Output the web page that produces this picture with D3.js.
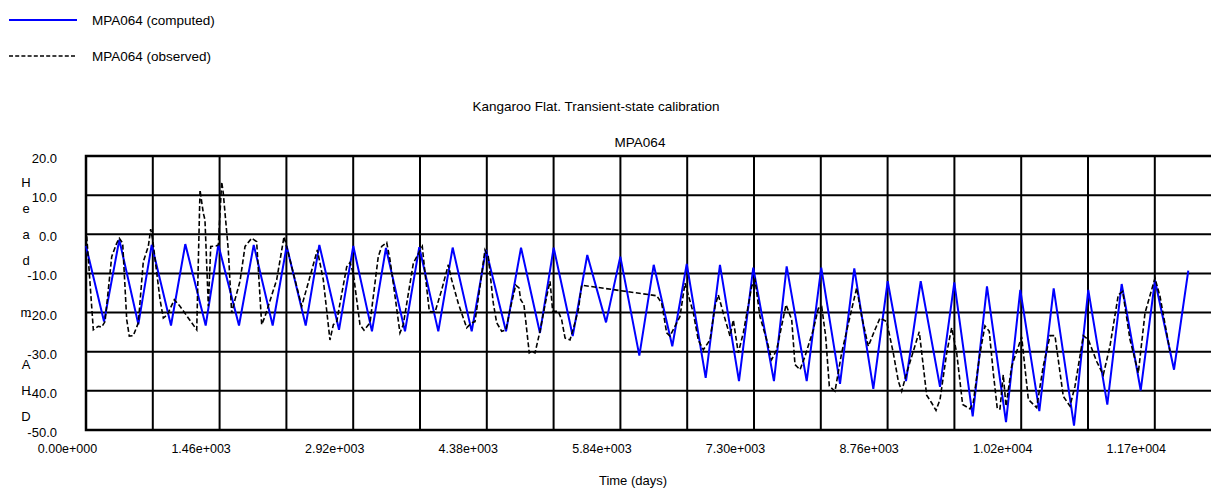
<!DOCTYPE html>
<html><head><meta charset="utf-8">
<script src="https://cdn.jsdelivr.net/npm/d3@7"></script>
<style>
body{margin:0;background:#fff;}
text{font-family:"Liberation Sans",Arial,sans-serif;fill:#000;}
</style>
</head><body>
<svg id="c" width="1211" height="492"></svg>
<script>
const computedDays = [0,197,364,572,718,929,1085,1308,1446,1672,1833,2040,2193,2401,2550,2765,2921,3125,3278,3486,3642,3850,4007,4215,4371,4590,4754,4961,5111,5319,5478,5683,5839,6047,6204,6407,6565,6772,6928,7136,7292,7518,7657,7876,8035,8240,8396,8604,8761,8961,9122,9333,9489,9690,9846,10054,10210,10418,10575,10797,10953,11161,11318,11526,11682,11890,12046];
const computedHead = [-3,-22.3,-1.4,-23,-2.7,-23.3,-2.5,-23.3,-2.7,-23.3,-2.7,-23.3,-3,-23.3,-2.7,-24.4,-3,-24.8,-3.5,-24.8,-3.3,-24.8,-3.4,-24.8,-4,-24.8,-3.4,-25.2,-3.4,-26,-5.3,-22.5,-5.7,-31,-7.8,-28.6,-7.6,-36.7,-7.8,-37.5,-8.5,-37.5,-8.2,-37.5,-8.5,-38.2,-8.7,-39.5,-12,-37.5,-12,-39,-12.3,-46.5,-13.3,-48,-14.2,-45.2,-13.8,-48.9,-14.2,-43.5,-12.7,-39.9,-11.8,-34.6,-9.3];
const observedDays = [8,80,134,172,208,281,335,364,401,445,473,517,572,626,681,707,729,809,845,888,965,1027,1210,1246,1282,1300,1337,1363,1421,1446,1483,1500,1555,1592,1628,1683,1738,1811,1865,1920,1956,2084,2164,2211,2357,2448,2528,2593,2666,2703,2740,2776,2849,2885,2921,2994,3038,3104,3194,3231,3286,3322,3358,3431,3467,3577,3675,3705,3752,3814,3887,3959,3996,4068,4160,4215,4251,4306,4360,4396,4451,4488,4543,4590,4633,4696,4732,4750,4786,4844,4871,4907,4961,5034,5071,5100,5161,5198,5235,5289,5333,5380,5417,6237,6291,6346,6382,6491,6546,6637,6691,6746,6819,6874,6910,6964,7038,7074,7128,7183,7275,7311,7365,7439,7493,7548,7650,7712,7748,7803,7857,7948,8003,8040,8083,8123,8185,8258,8349,8422,8477,8549,8622,8677,8750,8822,8877,8914,8969,9106,9187,9242,9289,9333,9406,9460,9515,9580,9660,9696,9770,9824,9871,9915,9959,9988,10024,10054,10116,10225,10298,10389,10461,10535,10589,10680,10753,10808,10899,10953,11045,11117,11190,11281,11329,11409,11500,11573,11682,11737,11846];
const observedHead = [-0.5,-24.4,-23.5,-23.7,-22.3,-5.7,-2.3,-1,-2.3,-21.8,-26,-25.9,-22.6,-7,-3.1,1.3,-1.4,-16.7,-21.4,-20.6,-16.7,-18.4,-24.4,11.3,5.4,3.7,-18.4,-3.1,-3,-2.7,13.4,10.5,-4,-20.1,-16.7,-12,-3.1,-1,-1.9,-23.1,-21,-11.6,-0.6,-4.8,-18.4,-10.8,-4,-11.6,-27,-23.1,-22.3,-17.6,-8.3,-7.2,-10,-23.1,-24.5,-22.6,-5.7,-3.1,-2.1,-6.5,-12.5,-25.2,-23.1,-7.4,-3.1,-9.9,-19.7,-19.9,-14.2,-7.8,-11.6,-17.6,-23.9,-22.6,-22.3,-13.3,-4,-5.7,-17.6,-22.6,-24.8,-24.4,-19.3,-13,-13.7,-16.7,-18,-30.3,-29.9,-30.3,-24.8,-15.9,-12,-19.7,-19.7,-21.8,-26.5,-27,-23.5,-19.3,-13,-15.7,-17.6,-25.2,-26,-21,-12.5,-20.1,-27,-29.5,-27,-18.4,-15.5,-20.1,-26,-21.9,-30.3,-25.2,-13.3,-11.6,-21,-27,-32,-29.5,-18,-21.8,-33.3,-34.6,-31.2,-24.4,-18.9,-18.5,-26,-38.8,-40.1,-30.3,-21,-13.7,-21,-28.6,-24.4,-21.4,-22.3,-30.3,-37.5,-40.1,-35.4,-24.9,-41.1,-43.1,-45,-42.2,-30.3,-23.9,-30.3,-43.5,-44.6,-43,-30.3,-23.4,-24.8,-35.4,-44.6,-44.6,-35.9,-43.9,-33.7,-26.2,-42.2,-44.3,-33.7,-25.9,-25.9,-41.4,-43.9,-38.8,-25.9,-26.9,-32.5,-35.9,-28.6,-15.5,-14.6,-26.9,-35.4,-20.1,-11.2,-15.9,-29.9];
const xGridValues = [0,730,1460,2190,2920,3650,4380,5110,5840,6570,7300,8030,8760,9490,10220,10950,11680,12410];
const xTickValues = [0,1460,2920,4380,5840,7300,8760,10220,11680];
const xTickLabels = ["0.00e+000","1.46e+003","2.92e+003","4.38e+003","5.84e+003","7.30e+003","8.76e+003","1.02e+004","1.17e+004"];
const yTickValues = [20,10,0,-10,-20,-30,-40,-50];
const yTickLabels = ["20.0","10.0","0.0","-10.0","-20.0","-30.0","-40.0","-50.0"];
const seriesNames = ["MPA064 (computed)","MPA064 (observed)"];
const chartTitle = "Kangaroo Flat. Transient-state calibration";
const chartSubtitle = "MPA064";
const xAxisTitle = "Time (days)";
const yAxisTitle = "Head m AHD";

(function(){
const svg = d3.select("#c");
const pLeft = 86, pTop = 156, pBottom = 430;
const pxPerDay = 66.8/730;
const xMax = 12410;
const x = d3.scaleLinear().domain([0, xMax]).range([pLeft, pLeft + xMax*pxPerDay]);
const y = d3.scaleLinear().domain([-50, 20]).range([pBottom, pTop]);
const pRight = x(xMax);
const FONT = '"Liberation Sans",Arial,sans-serif';

// grid
const g = svg.append("g");
g.selectAll("line.h").data(yTickValues).enter().append("line")
  .attr("x1", pLeft).attr("x2", pRight).attr("y1", d=>y(d)).attr("y2", d=>y(d))
  .attr("stroke", "#000").attr("stroke-width", 2);
g.selectAll("line.v").data(xGridValues).enter().append("line")
  .attr("y1", pTop).attr("y2", pBottom).attr("x1", d=>x(d)).attr("x2", d=>x(d))
  .attr("stroke", "#000").attr("stroke-width", 2);
g.append("rect").attr("x", pLeft).attr("y", pTop).attr("width", pRight-pLeft).attr("height", pBottom-pTop)
  .attr("fill", "none").attr("stroke", "#000").attr("stroke-width", 2.5);

// axes labels
const xAxis = d3.axisBottom(x).tickValues(xTickValues).tickSize(0)
  .tickFormat((d,i)=>xTickLabels[i]);
const xa = svg.append("g").attr("transform", `translate(-19,${pBottom})`).call(xAxis);
xa.select(".domain").remove();
xa.selectAll("text").attr("dy", null).attr("y", 23).style("font-size","12.5px").style("font-family",FONT).attr("fill","#000");

const yAxis = d3.axisLeft(y).tickValues(yTickValues).tickSize(0)
  .tickFormat((d,i)=>yTickLabels[i]);
const ya = svg.append("g").attr("transform", `translate(57,0)`).call(yAxis);
ya.select(".domain").remove();
ya.selectAll("text").attr("x", 0).attr("dy", "0.5em").style("font-size","13px").style("font-family",FONT).attr("fill","#000");

// vertical y title letters
svg.append("g").selectAll("text").data(yAxisTitle.split("")).enter().append("text")
  .attr("x", 26).attr("y", (d,i)=>187 + i*26).attr("text-anchor","middle")
  .style("font-size","13px").text(d=>d);

// lines
const lineGen = d3.line().x(d=>x(d[0])).y(d=>y(d[1]));
const computed = computedDays.map((d,i)=>[d, computedHead[i]]);
const observed = observedDays.map((d,i)=>[d, observedHead[i]]);
svg.append("path").datum(computed).attr("d", lineGen)
  .attr("fill","none").attr("stroke","#0000ff").attr("stroke-width",2).attr("stroke-linejoin","miter");
svg.append("path").datum(observed).attr("d", lineGen)
  .attr("fill","none").attr("stroke","#000").attr("stroke-width",1.6).attr("stroke-dasharray","5,2.5");

// titles
svg.append("text").attr("x", 596).attr("y", 111).attr("text-anchor","middle").style("font-size","13.5px").text(chartTitle);
svg.append("text").attr("x", 640).attr("y", 147).attr("text-anchor","middle").style("font-size","13.5px").text(chartSubtitle);
svg.append("text").attr("x", 633).attr("y", 485).attr("text-anchor","middle").style("font-size","13px").text(xAxisTitle);

// legend
const leg = svg.append("g");
const legY = [20, 56];
leg.append("line").attr("x1",9).attr("x2",77).attr("y1",legY[0]).attr("y2",legY[0]).attr("stroke","#0000ff").attr("stroke-width",2);
leg.append("line").attr("x1",9).attr("x2",77).attr("y1",legY[1]).attr("y2",legY[1]).attr("stroke","#000").attr("stroke-width",1.6).attr("stroke-dasharray","4,2.2");
leg.selectAll("text").data(seriesNames).enter().append("text")
  .attr("x", 92).attr("y", (d,i)=>legY[i]+5).style("font-size","13.5px").text(d=>d);
})();
</script>
</body></html>
